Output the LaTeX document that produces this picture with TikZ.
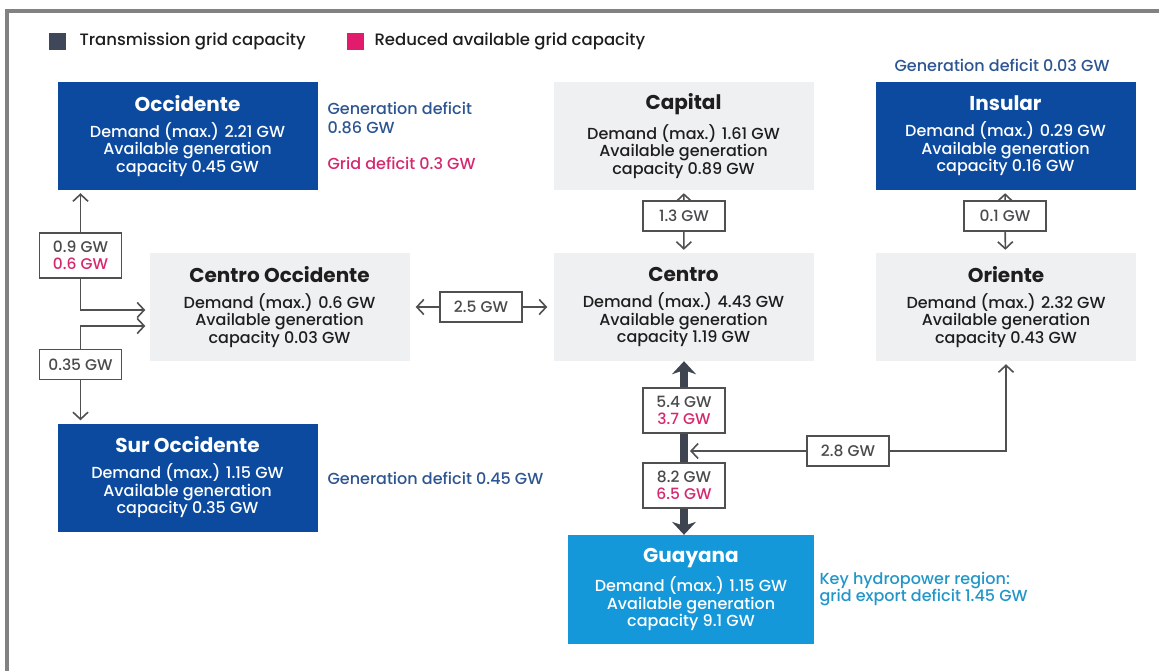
\documentclass[tikz,border=0pt]{standalone}
\usepackage{fontspec}
\setmainfont{Poppins}[UprightFont=* Medium, BoldFont=* Bold]
\usetikzlibrary{arrows.meta}

\definecolor{occblue}{RGB}{11,74,158}
\definecolor{guyblue}{RGB}{20,152,218}
\definecolor{boxgrey}{RGB}{239,240,242}
\definecolor{textdark}{RGB}{30,30,30}
\definecolor{edgegrey}{RGB}{80,80,82}
\definecolor{trunkgrey}{RGB}{62,68,80}
\definecolor{gwgrey}{RGB}{75,75,78}
\definecolor{gwpink}{RGB}{214,40,110}
\definecolor{legpink}{RGB}{227,27,109}
\definecolor{legdark}{RGB}{62,72,90}
\definecolor{defblue}{RGB}{45,85,145}
\definecolor{hydroteal}{RGB}{35,150,200}
\definecolor{framegrey}{RGB}{130,130,130}

\tikzset{
  region/.style={minimum width=260pt, minimum height=108pt, inner sep=0pt, align=center,
    font=\fontsize{16}{17.5}\selectfont},
  darkbox/.style={region, fill=occblue, text=white},
  greybox/.style={region, fill=boxgrey, text=textdark},
  gw/.style={draw=edgegrey, line width=1.6pt, fill=white, minimum width=82pt, minimum height=30pt,
    inner sep=2pt, align=center, text=gwgrey, font=\fontsize{15.5}{16.5}\selectfont},
  link/.style={draw=edgegrey, line width=1.6pt, -{Straight Barb[length=7pt,width=15pt]}, shorten >=3pt},
  trunk/.style={draw=trunkgrey, line width=8pt, -{Stealth[length=13pt,width=24pt,inset=4pt]}},
  note/.style={anchor=west, align=left, font=\fontsize{16}{19}\selectfont},
}

\newcommand{\rname}[1]{{\fontsize{20}{20}\selectfont\bfseries #1}\\[8.5pt]}

\begin{document}
\begin{tikzpicture}[x=1pt,y=-1pt]
  \useasboundingbox (0,0) rectangle (1159,670);
  \clip (0,0) rectangle (1159,670);
  % outer frame
  \draw[framegrey, line width=3.5pt] (7,690) -- (7,11) -- (1180,11);

  % legend
  \node[fill=legdark, minimum size=17pt, inner sep=0pt] (sqgrid) at (57,41) {};
  \node[anchor=west, text=textdark, font=\fontsize{16.5}{17}\selectfont] (leggrid) at (76,41) {Transmission grid capacity};
  \node[fill=legpink, minimum size=17pt, inner sep=0pt] (sqred) at (355,41) {};
  \node[anchor=west, text=textdark, font=\fontsize{16.5}{17}\selectfont] (legred) at (371,41) {Reduced available grid capacity};

  % regions
  \node[darkbox] (occ) at (187.5,136) {\rname{Occidente}Demand (max.) 2.21 GW\\Available generation\\capacity 0.45 GW};
  \node[greybox] (cap) at (683.5,136) {\rname{Capital}Demand (max.) 1.61 GW\\Available generation\\capacity 0.89 GW};
  \node[darkbox] (ins) at (1005.5,136) {\rname{Insular}Demand (max.) 0.29 GW\\Available generation\\capacity 0.16 GW};
  \node[greybox] (coc) at (279.5,307) {\rname{Centro Occidente}Demand (max.) 0.6 GW\\Available generation\\capacity 0.03 GW};
  \node[greybox] (cen) at (683.5,307) {\rname{Centro}Demand (max.) 4.43 GW\\Available generation\\capacity 1.19 GW};
  \node[greybox] (ori) at (1006,307) {\rname{Oriente}Demand (max.) 2.32 GW\\Available generation\\capacity 0.43 GW};
  \node[darkbox] (sur) at (187.5,477.5) {\rname{Sur Occidente}Demand (max.) 1.15 GW\\Available generation\\capacity 0.35 GW};
  \node[region, fill=guyblue, text=white, minimum width=246pt, minimum height=109pt] (guy) at (691,589.5)
    {\rname{Guayana}Demand (max.) 1.15 GW\\Available generation\\capacity 9.1 GW};

  % side notes
  \node[note, text=defblue] (occgen) at (324,117.5) {Generation deficit\\0.86 GW};
  \node[note, text=gwpink] (occgrid) at (324,163) {Grid deficit 0.3 GW};
  \node[note, anchor=center, text=defblue] (insgen) at (1002,65) {Generation deficit 0.03 GW};
  \node[note, text=defblue] (surgen) at (324,478) {Generation deficit 0.45 GW};
  \node[note, text=hydroteal, font=\fontsize{16}{17}\selectfont] (guyhydro) at (816,589.5) {Key hydropower region:\\grid export deficit 1.45 GW};

  % capacities
  \node[gw] (b13) at (684,216) {1.3 GW};
  \node[gw] (b01) at (1005,216) {0.1 GW};
  \node[gw] (b25) at (481,307) {2.5 GW};
  \node[gw, minimum height=45pt] (b09) at (80.5,255.5) {0.9 GW\\\textcolor{gwpink}{0.6 GW}};
  \node[gw] (b035) at (80.5,364.5) {0.35 GW};
  \node[gw, minimum height=45pt] (b54) at (684,410.5) {5.4 GW\\\textcolor{gwpink}{3.7 GW}};
  \node[gw, minimum height=45pt] (b82) at (684,485.5) {8.2 GW\\\textcolor{gwpink}{6.5 GW}};
  \node[gw] (b28) at (848,451) {2.8 GW};

  % connectors
  \draw[link] (b13) -- (cap);
  \draw[link] (b13) -- (cen);
  \draw[link] (b01) -- (ins);
  \draw[link] (b01) -- (ori);
  \draw[link, shorten >=6pt] (b25) -- (coc);
  \draw[link, shorten >=6pt] (b25) -- (cen);
  \draw[link] (b09) -- (b09 |- occ.south);
  \draw[link, shorten >=4pt] (b09) |- ([yshift=-3pt]coc.west);
  \draw[link, shorten >=4pt] (b035) |- ([yshift=-19pt]coc.west);
  \draw[link] (b035) -- (b035 |- sur.north);
  \draw[link] (b28) -| (ori);
  \draw[link, shorten >=6pt] (b28) -- (b28 -| b54);
  \draw[trunk] (b54) -- (b54 |- cen.south);
  \draw[trunk, -] (b54) -- (b82);
  \draw[trunk] (b82) -- (b82 |- guy.north);
\end{tikzpicture}
\end{document}
